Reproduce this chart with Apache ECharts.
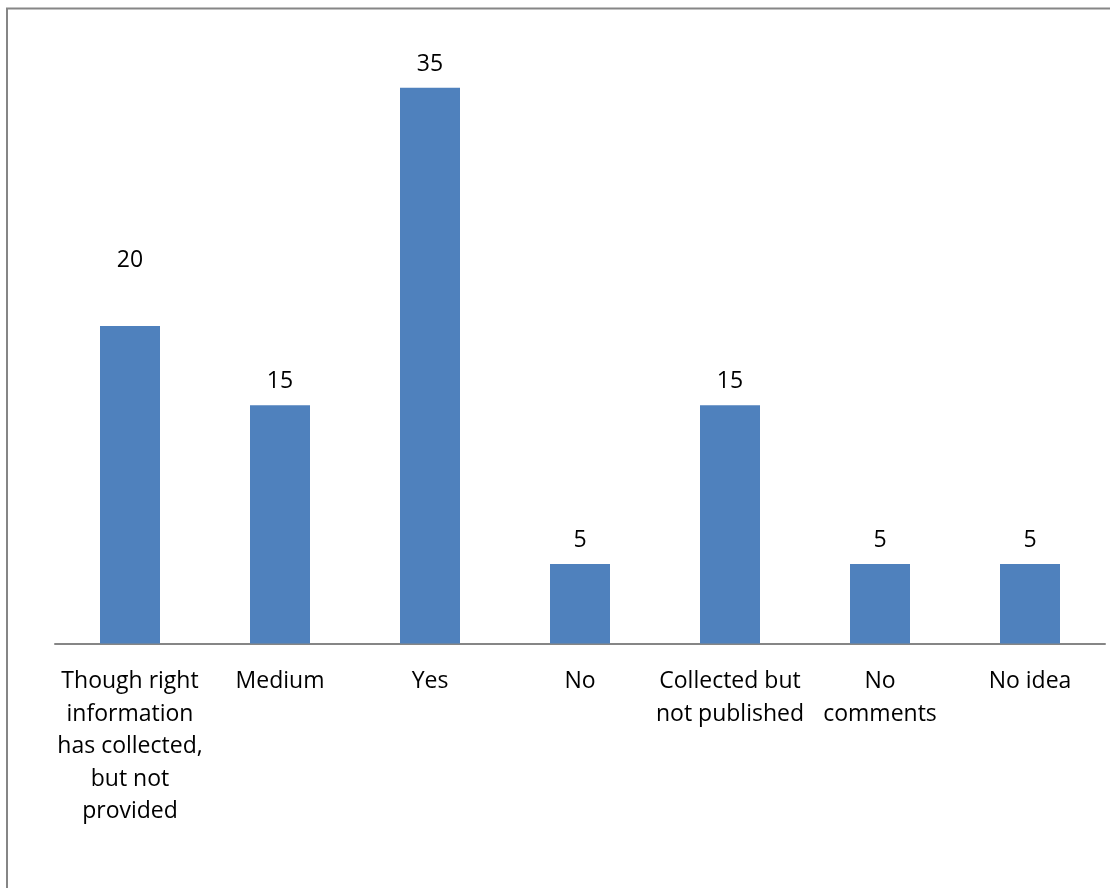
<!DOCTYPE html>
<html>
<head>
<meta charset="utf-8">
<style>
  html, body { margin: 0; padding: 0; background: #ffffff; }
  #chart { width: 1110px; height: 888px; }
</style>
<script src="https://cdn.jsdelivr.net/npm/echarts@6/dist/echarts.min.js"></script>
</head>
<body>
<div id="chart"></div>
<script>
// Survey responses
const categories = [
  'Though right\ninformation\nhas collected,\nbut not\nprovided',
  'Medium',
  'Yes',
  'No',
  'Collected but\nnot published',
  'No\ncomments',
  'No idea'
];
const counts = [20, 15, 35, 5, 15, 5, 5];

const FONT = '"Open Sans", sans-serif';
const chart = echarts.init(document.getElementById('chart'), null, { renderer: 'canvas' });

// The first label sits higher above its bar than the rest
const seriesData = counts.map((v, i) => i === 0
  ? { value: v, label: { distance: 54 } }
  : { value: v });

chart.setOption({
  animation: false,
  backgroundColor: '#ffffff',
  graphic: [{
    type: 'rect',
    shape: { x: 7, y: 8.5, width: 1300, height: 1000 },
    style: { fill: 'none', stroke: '#868686', lineWidth: 2 },
    silent: true
  }],
  grid: { left: 55, right: 5, top: 8.3, bottom: 244.5, containLabel: false },
  xAxis: {
    type: 'category',
    data: categories,
    axisLine: { show: true, lineStyle: { color: '#868686', width: 2 } },
    axisTick: { show: false },
    axisLabel: {
      interval: 0,
      margin: 22,
      color: '#000000',
      fontFamily: FONT,
      fontSize: 23,
      lineHeight: 32.5,
      align: 'center',
      verticalAlign: 'top'
    }
  },
  yAxis: {
    type: 'value',
    min: 0,
    max: 40,
    interval: 5,
    show: false,
    splitLine: { show: false }
  },
  series: [{
    type: 'bar',
    data: seriesData,
    barWidth: '40%',
    itemStyle: { color: '#4F81BD' },
    label: {
      show: true,
      position: 'top',
      distance: 12,
      color: '#000000',
      fontFamily: FONT,
      fontSize: 23
    }
  }]
});
</script>
</body>
</html>
